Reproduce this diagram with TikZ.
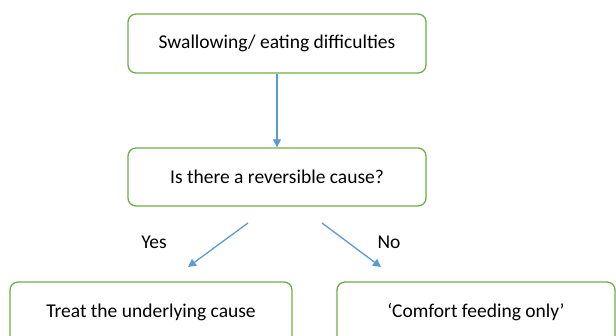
\documentclass[tikz,border=0pt]{standalone}
\usepackage{fontspec}
\setmainfont{Carlito}
\usetikzlibrary{arrows.meta}
\definecolor{boxgreen}{RGB}{112,173,71}
\definecolor{arrowblue}{RGB}{91,155,213}
\begin{document}
\begin{tikzpicture}[x=1pt,y=-1pt,
  flowbox/.style={draw=boxgreen,line width=1.3pt,rounded corners=8pt,fill=white,inner sep=0pt,font=\fontsize{19.5}{23}\selectfont},
  flowarrow/.style={draw=arrowblue,line width=1.3pt,-{Triangle[length=8pt,width=8pt]}},
  lbl/.style={font=\fontsize{19.5}{23}\selectfont,inner sep=0pt}]
\useasboundingbox (0,0) rectangle (616,336);
\clip (0,0) rectangle (616,336);
\node[flowbox,minimum width=298pt,minimum height=59pt] (top) at (277,43.5) {Swallowing/ eating difficulties};
\node[flowbox,minimum width=298pt,minimum height=58pt] (mid) at (277,177) {Is there a reversible cause?};
\node[flowbox,minimum width=282pt,minimum height=70pt] (left) at (151,317) {};
\node[flowbox,minimum width=278pt,minimum height=70pt] (right) at (476,317) {};
\node[lbl] (lefttxt) at (151,312) {Treat the underlying cause};
\node[lbl] (righttxt) at (476,312) {‘Comfort feeding only’};
\coordinate (ya) at (248,223);
\coordinate (yb) at (188,267);
\coordinate (na) at (322,223);
\coordinate (nb) at (381,267);
\draw[flowarrow] (top.south) -- (mid.north);
\draw[flowarrow] (ya) -- (yb);
\draw[flowarrow] (na) -- (nb);
\node[lbl] (yes) at (154,242) {Yes};
\node[lbl] (no) at (389,242) {No};
\end{tikzpicture}
\end{document}
